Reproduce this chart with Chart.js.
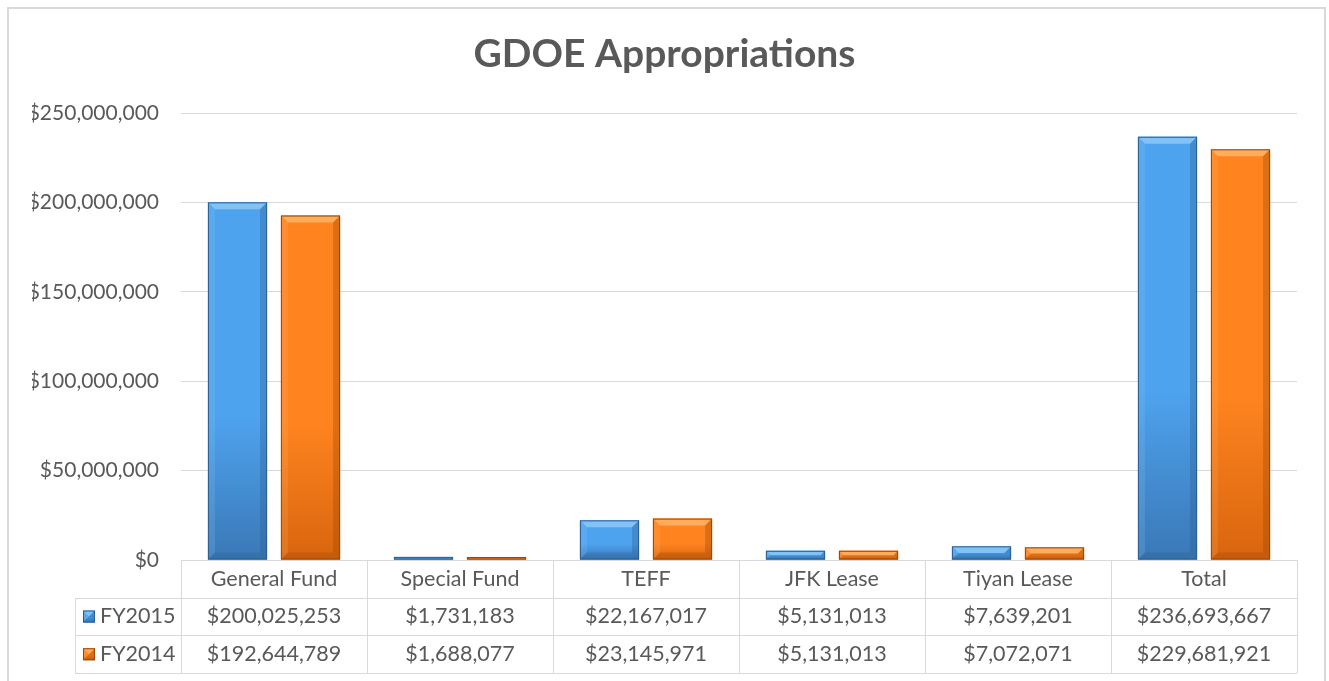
<!DOCTYPE html>
<html>
<head>
<meta charset="utf-8">
<title>GDOE Appropriations</title>
<script src="https://cdn.jsdelivr.net/npm/chart.js@4.4.1/dist/chart.umd.min.js"></script>
<style>
    html, body { margin: 0; padding: 0; background: #ffffff; }
    #wrap { position: relative; width: 1329px; height: 681px; }
</style>
</head>
<body>
<div id="wrap"><canvas id="gdoeChart" width="1329" height="681"></canvas></div>
<script>
const categories = ['General Fund', 'Special Fund', 'TEFF', 'JFK Lease', 'Tiyan Lease', 'Total'];
const fy2015 = [200025253, 1731183, 22167017, 5131013, 7639201, 236693667];
const fy2014 = [192644789, 1688077, 23145971, 5131013, 7072071, 229681921];
const seriesNames = ['FY2015', 'FY2014'];

const FONT = 'Lato, "Open Sans", sans-serif';
const TEXT_COLOR = '#595959';
const LINE_COLOR = '#d9d9d9';

// light / dark shades for the bevelled bars
const shades = [
    { top: '#4ea3ee', bottom: '#3a78b6', bevel: '#8cc8f7', edge: '#2b5f93' },
    { top: '#ff8420', bottom: '#d8650e', bevel: '#ffb468', edge: '#9c4705' }
];

function money(v) {
    return '$' + v.toLocaleString('en-US');
}

/**
 * Draw a bar with a simple bevel, like the office 3D style
 */
function drawBevelBar(ctx, left, right, top, bottom, s) {
    const w = right - left;
    const h = bottom - top;
    if (h <= 0) return;
    const b = Math.min(7, h / 2, w / 2);

    const grad = ctx.createLinearGradient(0, top, 0, bottom);
    grad.addColorStop(0, s.top);
    grad.addColorStop(0.6, s.top);
    grad.addColorStop(1, s.bottom);
    ctx.fillStyle = grad;
    ctx.fillRect(left, top, w, h);

    // top bevel
    ctx.fillStyle = s.bevel;
    ctx.globalAlpha = 0.85;
    ctx.beginPath();
    ctx.moveTo(left, top);
    ctx.lineTo(right, top);
    ctx.lineTo(right - b, top + b);
    ctx.lineTo(left + b, top + b);
    ctx.closePath();
    ctx.fill();

    // left bevel
    ctx.globalAlpha = 0.2;
    ctx.beginPath();
    ctx.moveTo(left, top);
    ctx.lineTo(left + b, top + b);
    ctx.lineTo(left + b, bottom - b);
    ctx.lineTo(left, bottom);
    ctx.closePath();
    ctx.fill();

    // right and bottom bevel
    ctx.fillStyle = s.edge;
    ctx.globalAlpha = 0.35;
    ctx.beginPath();
    ctx.moveTo(right, top);
    ctx.lineTo(right, bottom);
    ctx.lineTo(right - b, bottom - b);
    ctx.lineTo(right - b, top + b);
    ctx.closePath();
    ctx.fill();
    ctx.globalAlpha = 0.3;
    ctx.beginPath();
    ctx.moveTo(left, bottom);
    ctx.lineTo(right, bottom);
    ctx.lineTo(right - b, bottom - b);
    ctx.lineTo(left + b, bottom - b);
    ctx.closePath();
    ctx.fill();

    ctx.globalAlpha = 1;
    ctx.strokeStyle = s.edge;
    ctx.lineWidth = 1;
    ctx.strokeRect(left + 0.5, top + 0.5, w - 1, h - 1);
}

const bevelPlugin = {
    id: 'bevelBars',
    afterDatasetsDraw(chart) {
        const ctx = chart.ctx;
        ctx.save();
        chart.data.datasets.forEach((ds, i) => {
            const meta = chart.getDatasetMeta(i);
            meta.data.forEach(bar => {
                const half = bar.width / 2;
                drawBevelBar(ctx, bar.x - half, bar.x + half, bar.y, bar.base, shades[i]);
            });
        });
        ctx.restore();
    }
};

const tablePlugin = {
    id: 'dataTable',
    beforeDraw(chart) {
        const ctx = chart.ctx;
        ctx.save();
        ctx.fillStyle = '#ffffff';
        ctx.fillRect(0, 0, chart.width, chart.height);
        ctx.strokeStyle = LINE_COLOR;
        ctx.lineWidth = 2;
        ctx.strokeRect(8, 8, 1317, 700);
        ctx.restore();
    },
    afterDraw(chart) {
        const ctx = chart.ctx;
        const area = chart.chartArea;
        const x = chart.scales.x;
        const colW = (area.right - area.left) / categories.length;
        const rowH = 37.7;
        const top = area.bottom;
        const keyLeft = 75;

        ctx.save();
        ctx.strokeStyle = LINE_COLOR;
        ctx.lineWidth = 1;
        ctx.beginPath();
        // horizontal lines
        ctx.moveTo(area.left, top + 0.5);
        ctx.lineTo(area.right, top + 0.5);
        for (let r = 1; r <= 3; r++) {
            const y = Math.round(top + r * rowH) + 0.5;
            ctx.moveTo(keyLeft, y);
            ctx.lineTo(area.right, y);
        }
        // vertical lines
        for (let c = 0; c <= categories.length; c++) {
            const vx = Math.round(area.left + c * colW) + 0.5;
            ctx.moveTo(vx, top);
            ctx.lineTo(vx, top + 3 * rowH);
        }
        ctx.moveTo(keyLeft + 0.5, Math.round(top + rowH));
        ctx.lineTo(keyLeft + 0.5, Math.round(top + 3 * rowH));
        ctx.stroke();

        ctx.fillStyle = TEXT_COLOR;
        ctx.font = '21.5px ' + FONT;
        ctx.textAlign = 'center';
        ctx.textBaseline = 'middle';
        categories.forEach((name, i) => {
            const cx = x.getPixelForValue(i);
            ctx.fillText(name, cx, top + rowH / 2);
            ctx.fillText(money(fy2015[i]), cx, top + rowH * 1.5);
            ctx.fillText(money(fy2014[i]), cx, top + rowH * 2.5);
        });

        // series keys
        ctx.textAlign = 'left';
        seriesNames.forEach((name, i) => {
            const cy = top + rowH * (1.5 + i);
            drawBevelBar(ctx, 83, 95, cy - 6, cy + 6, shades[i]);
            ctx.fillStyle = TEXT_COLOR;
            ctx.fillText(name, 100, cy);
        });
        ctx.restore();
    }
};

const ctx = document.getElementById('gdoeChart').getContext('2d');
new Chart(ctx, {
    type: 'bar',
    data: {
        labels: categories,
        datasets: [
            { label: seriesNames[0], data: fy2015, backgroundColor: shades[0].top, borderWidth: 0 },
            { label: seriesNames[1], data: fy2014, backgroundColor: shades[1].top, borderWidth: 0 }
        ]
    },
    options: {
        responsive: false,
        animation: false,
        devicePixelRatio: 1,
        categoryPercentage: 0.785,
        barPercentage: 0.81,
        layout: {
            padding: { left: 32, right: 32, top: 0, bottom: 121 }
        },
        plugins: {
            legend: { display: false },
            tooltip: { enabled: false },
            title: {
                display: true,
                text: 'GDOE Appropriations',
                color: TEXT_COLOR,
                font: { family: FONT, size: 39, weight: 'bold' },
                padding: { top: 31.5, bottom: 34.7 }
            }
        },
        scales: {
            x: {
                display: false
            },
            y: {
                min: 0,
                max: 250000000,
                afterFit(scale) {
                    scale.width = 149;
                },
                ticks: {
                    stepSize: 50000000,
                    padding: 22,
                    color: TEXT_COLOR,
                    font: { family: FONT, size: 21 },
                    callback: value => money(value)
                },
                grid: {
                    color: LINE_COLOR,
                    drawTicks: false
                },
                border: { display: false }
            }
        }
    },
    plugins: [tablePlugin, bevelPlugin]
});
</script>
</body>
</html>
